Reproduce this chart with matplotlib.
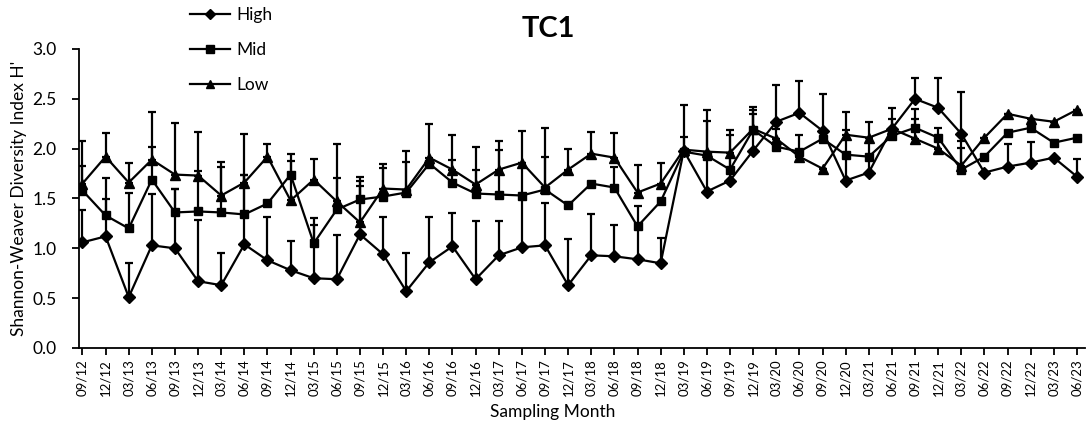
import matplotlib
matplotlib.use("Agg")
import matplotlib.pyplot as plt
import numpy as np
from matplotlib.lines import Line2D

months = ["09/12","12/12","03/13","06/13","09/13","12/13","03/14","06/14","09/14","12/14",
          "03/15","06/15","09/15","12/15","03/16","06/16","09/16","12/16","03/17","06/17",
          "09/17","12/17","03/18","06/18","09/18","12/18","03/19","06/19","09/19","12/19",
          "03/20","06/20","09/20","12/20","03/21","06/21","09/21","12/21","03/22","06/22",
          "09/22","12/22","03/23","06/23"]

high = [1.06,1.12,0.51,1.03,1.00,0.67,0.63,1.04,0.88,0.78,
        0.70,0.69,1.14,0.94,0.57,0.86,1.02,0.69,0.93,1.01,
        1.03,0.63,0.93,0.92,0.89,0.85,1.98,1.57,1.68,1.98,
        2.27,2.36,2.18,1.68,1.76,2.20,2.50,2.41,2.15,1.76,
        1.82,1.86,1.91,1.72]
mid = [1.58,1.33,1.20,1.69,1.36,1.37,1.36,1.34,1.45,1.74,
       1.05,1.39,1.49,1.52,1.56,1.85,1.66,1.55,1.54,1.53,
       1.59,1.43,1.65,1.61,1.22,1.47,1.97,1.93,1.79,2.19,
       2.02,1.97,2.10,1.94,1.92,2.13,2.21,2.11,1.79,1.92,
       2.16,2.21,2.06,2.11]
low = [1.65,1.92,1.66,1.89,1.74,1.73,1.53,1.66,1.92,1.48,
       1.69,1.47,1.26,1.60,1.59,1.91,1.79,1.64,1.79,1.86,
       1.61,1.79,1.95,1.91,1.56,1.65,1.99,1.97,1.96,2.20,
       2.10,1.92,1.80,2.14,2.11,2.20,2.10,2.00,1.83,2.11,
       2.35,2.30,2.27,2.39]

high_err = [0.32,0.37,0.34,0.52,0.60,0.61,0.32,0.70,0.43,0.29,
            0.53,0.44,0.49,0.37,0.38,0.45,0.33,0.58,0.34,1.17,
            0.42,0.46,0.41,0.31,0.33,0.25,0.46,0.71,0.51,0.44,
            0.37,0.32,0.37,0.51,0.51,0.21,0.21,0.30,0.42,0.0,
            0.23,0.21,0.0,0.18]
mid_err = [0.25,0.38,0.36,0.68,0.24,0.41,0.46,0.40,0.0,0.21,
           0.25,0.66,0.23,0.29,0.42,0.0,0.23,0.24,0.45,0.0,
           0.62,0.0,0.0,0.21,0.20,0.0,0.15,0.0,0.35,0.20,
           0.18,0.17,0.0,0.0,0.0,0.17,0.19,0.0,0.22,0.0,
           0.0,0.0,0.0,0.0]
low_err = [0.43,0.24,0.20,0.13,0.52,0.44,0.34,0.49,0.13,0.40,
           0.21,0.24,0.42,0.25,0.28,0.34,0.35,0.38,0.29,0.0,
           0.31,0.21,0.22,0.25,0.28,0.21,0.0,0.42,0.0,0.15,
           0.0,0.0,0.0,0.23,0.0,0.0,0.20,0.21,0.25,0.0,
           0.0,0.0,0.0,0.0]

series = [("High", high, high_err, "D", 6.0),
          ("Mid", mid, mid_err, "s", 6.3),
          ("Low", low, low_err, "^", 7.0)]

plt.rcParams['font.family'] = ['Lato', 'DejaVu Sans']

fig = plt.figure(figsize=(10.88, 4.28), dpi=100)
ax = fig.add_axes([79/1088, 80/428, (1085-79)/1088, (348-49)/428])

x = np.arange(len(months))
for name, vals, err, mk, ms in series:
    vals = np.array(vals)
    err = np.array(err)
    ax.errorbar(x, vals, yerr=[np.zeros_like(err), err], color='black',
                marker=mk, markersize=ms, linewidth=1.6, elinewidth=1.6,
                capsize=3.0, capthick=1.6, label=name)

ax.set_xlim(-0.15, 43.35)
ax.set_ylim(0, 3.0)
yt = np.arange(0, 3.01, 0.5)
ax.set_yticks(yt)
ax.set_yticklabels([f"{v:.1f}" for v in yt])
ax.set_xticks(x)
ax.set_xticklabels(months, rotation=90, fontsize=9.5)
ax.tick_params(axis='y', labelsize=12.5, length=5, width=1.3, direction='out', pad=11)
ax.tick_params(axis='x', length=5, width=1.3, direction='out', pad=3)
for s in ['top', 'right']:
    ax.spines[s].set_visible(False)
for s in ['left', 'bottom']:
    ax.spines[s].set_linewidth(1.3)

ax.set_ylabel("Shannon-Weaver Diversity Index H'", fontsize=12.5)
ax.yaxis.set_label_coords(-52/1006, 0.5)
ax.set_xlabel("Sampling Month", fontsize=12.5)
ax.xaxis.set_label_coords((553-79)/1006, -56/299)

fig.text(548/1088, 1 - 29/428, "TC1", ha='center', va='center', fontsize=21, fontweight='bold')

leg_handles = [Line2D([0], [0], color='black', marker=mk, markersize=ms*0.9, linewidth=1.6)
               for _, _, _, mk, ms in series]
fig.legend(leg_handles, [s[0] for s in series], loc='upper left',
           bbox_to_anchor=(190/1088, 1 - 7/428), frameon=False, fontsize=12.5,
           handlelength=2.3, handletextpad=0.35, labelspacing=1.1,
           borderpad=0, borderaxespad=0)

fig.savefig("out.png", dpi=100)
